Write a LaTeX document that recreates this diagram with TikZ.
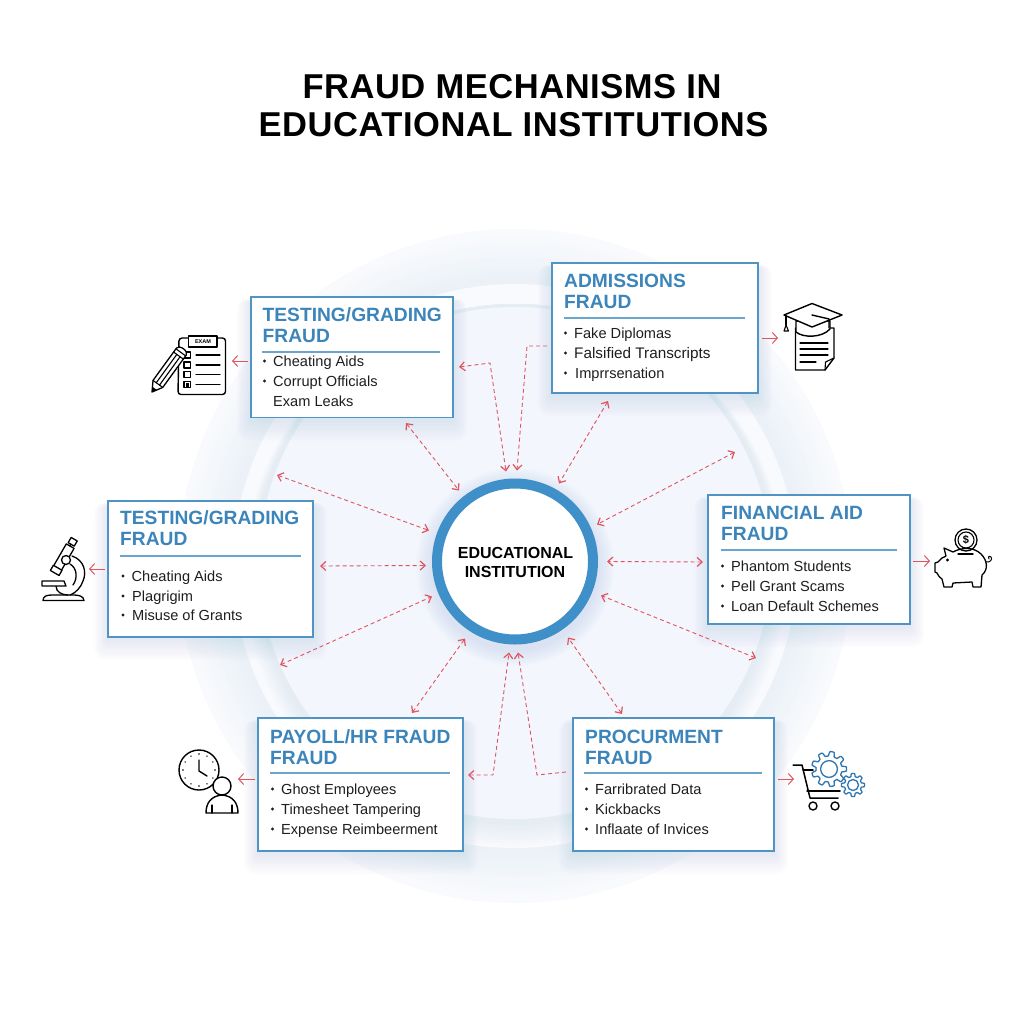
\documentclass[tikz,border=0pt]{standalone}
\usepackage{fontspec}
\setmainfont{Liberation Sans}
\usetikzlibrary{arrows.meta,calc}
\definecolor{cardblue}{HTML}{4F94C4}
\definecolor{headblue}{HTML}{3C85BB}
\definecolor{hubblue}{HTML}{3F8FC9}
\definecolor{linkred}{HTML}{E0545F}
\definecolor{inktext}{HTML}{1E1E1E}
\definecolor{rulecol}{HTML}{6AA5CE}
\definecolor{shadowcol}{HTML}{3F6FA8}
\definecolor{gearblue}{HTML}{2F75AE}
\definecolor{hazeblue}{HTML}{EAF0F7}
\definecolor{fringeblue}{HTML}{E2EAF3}
\definecolor{bandlight}{HTML}{F8FAFD}
\definecolor{innerdisc}{HTML}{F3F6FC}
\tikzset{
  fraudbox/.style={draw=cardblue,line width=1.5pt,fill=white,inner sep=0pt,outer sep=0pt},
  headtext/.style={inner sep=0pt,anchor=base west,text=headblue,font=\fontsize{19.2}{22}\selectfont\bfseries},
  itemtext/.style={inner sep=0pt,anchor=base west,text=inktext,font=\fontsize{14.6}{17}\selectfont},
  dashlink/.style={draw=linkred,line width=0.9pt,dash pattern=on 4pt off 3pt,{Straight Barb[length=5pt,width=9pt,line width=1.2pt]}-{Straight Barb[length=5pt,width=9pt,line width=1.2pt]}},
  halflink/.style={draw=linkred,line width=0.9pt,dash pattern=on 4pt off 3pt,-{Straight Barb[length=5pt,width=9pt,line width=1.2pt]}},
  iconlink/.style={draw=linkred,line width=1pt,-{Straight Barb[length=5pt,width=11pt,line width=1pt]}},
  ink/.style={draw=black,line width=1.4pt,line join=round,line cap=round},
  gearline/.style={draw=gearblue,line width=1.3pt,line join=round},
}
% soft shadow under a card
\newcommand\softshadow[4]{%
  \foreach \k in {1,...,12}{%
    \fill[shadowcol,opacity=0.009,rounded corners={\k*1pt}]
      ({#1-1.2*\k},{#2-0.3*\k+5}) rectangle ({#3+1.2*\k},{#4+1.8*\k+2});
  }}
% card: name, x1,y1,x2,y2, text x, first title baseline, title line 1, title line 2
\newcommand\card[9]{%
  \softshadow{#2}{#3}{#4}{#5}
  \node[fraudbox,minimum width={(#4-#2)*1pt},minimum height={(#5-#3)*1pt}] (#1) at ({(#2+#4)/2},{(#3+#5)/2}) {};
  \node[headtext] (#1-ta) at (#6,#7) {#8};
  \node[headtext] (#1-tb) at (#6,{#7+21.5}) {#9};
}
\newcommand\bulletat[2]{\fill[inktext] (#1,{#2-5}) circle (1.55);}
\newcommand\gearshape[4]{% cx, cy, radius, teeth
  \draw[gearline,fill=white] plot[samples=145,domain=0:360,smooth]
    ({#1+(#3)*(0.87+0.13*max(-1,min(1,2.2*cos(#4*\x))))*cos(\x)},{#2+(#3)*(0.87+0.13*max(-1,min(1,2.2*cos(#4*\x))))*sin(\x)}) -- cycle;
  \draw[gearline] (#1,#2) circle ({0.48*(#3)});
}
\begin{document}
\begin{tikzpicture}[x=1pt,y=-1pt]
\useasboundingbox (0,0) rectangle (1024,1024);
\fill[white] (0,0) rectangle (1024,1024);
% background: outer band fades outward to white
\foreach \k in {0,...,13}{
  \pgfmathsetmacro{\pp}{\k*5+30}
  \fill[hazeblue!\pp!white] (515,566) circle ({337-\k*4});
}
% lighter band
\fill[bandlight] (515,566) circle (282);
% crescent-shaped fringe round the inner disc, darkest near it
\foreach \k in {8,...,1}{
  \pgfmathsetmacro{\pp}{(9-\k)*11}
  \fill[fringeblue!\pp!bandlight] (515,{563+1.5*\k}) circle ({259+1.5*\k});
}
\foreach \k in {6,...,1}{
  \pgfmathsetmacro{\pp}{(7-\k)*16}
  \fill[innerdisc!\pp!bandlight] (515,563) circle ({259-\k*3});
}
\fill[innerdisc] (515,563) circle (241);
% title
\node[inner sep=0pt,anchor=base,font=\fontsize{34.5}{38}\selectfont\bfseries\addfontfeatures{LetterSpace=1.6},text=black] (titleA) at (512,99) {FRAUD MECHANISMS IN};
\node[inner sep=0pt,anchor=base,font=\fontsize{34.5}{38}\selectfont\bfseries\addfontfeatures{LetterSpace=1.6},text=black] (titleB) at (513.5,137) {EDUCATIONAL INSTITUTIONS};

% hub shadow
\foreach \k in {1,...,10}{\fill[shadowcol,opacity=0.012] (515,567) circle ({83+1.6*\k});}
\node[circle,draw=hubblue,line width=10pt,fill=white,minimum size=156pt,inner sep=0pt,outer sep=0pt] (hub) at (515,561.5) {};
\node[inner sep=0pt,anchor=base,font=\fontsize{16}{18}\selectfont\bfseries] (hubA) at (515.5,558) {EDUCATIONAL};
\node[inner sep=0pt,anchor=base,font=\fontsize{16}{18}\selectfont\bfseries] (hubB) at (515,577) {INSTITUTION};

% cards
\card{tt}{251}{297}{453}{417.5}{262.5}{321}{TESTING/GRADING}{FRAUD}
\card{ad}{552}{263}{758}{393}{564}{287}{ADMISSIONS}{FRAUD}
\card{tl}{108}{501}{313}{637}{120}{524}{TESTING/GRADING}{FRAUD}
\card{fi}{708}{495}{910}{624}{721}{519}{FINANCIAL AID}{FRAUD}
\card{pa}{258}{718}{463}{851}{270}{743}{PAYOLL/HR FRAUD}{FRAUD}
\card{pr}{573}{718}{774}{851}{585}{743}{PROCURMENT}{FRAUD}

\draw[rulecol,line width=1.1pt] (262,352) -- (440,352);
\draw[rulecol,line width=1.1pt] (564,318) -- (745,318);
\draw[rulecol,line width=1.1pt] (120,556) -- (301,556);
\draw[rulecol,line width=1.1pt] (721,550) -- (897,550);
\draw[rulecol,line width=1.1pt] (270,773) -- (450,773);
\draw[rulecol,line width=1.1pt] (584,773) -- (762,773);

\bulletat{264.5}{366}\bulletat{264.5}{386}
\node[itemtext] (tt1) at (273,366) {Cheating Aids};
\node[itemtext] (tt2) at (273,386) {Corrupt Officials};
\node[itemtext] (tt3) at (273,406) {Exam Leaks};

\bulletat{565.5}{338}\bulletat{565.5}{358}\bulletat{565.5}{378}
\node[itemtext] (ad1) at (574,338) {Fake Diplomas};
\node[itemtext,font=\fontsize{15.3}{17}\selectfont] (ad2) at (574,358) {Falsified Transcripts};
\node[itemtext] (ad3) at (575,378) {Imprrsenation};

\bulletat{123}{581}\bulletat{123}{601}\bulletat{123}{620}
\node[itemtext] (tl1) at (131.5,581) {Cheating Aids};
\node[itemtext] (tl2) at (132,601) {Plagrigim};
\node[itemtext] (tl3) at (132,620) {Misuse of Grants};

\bulletat{722.5}{571}\bulletat{722.5}{591}\bulletat{722.5}{611}
\node[itemtext] (fi1) at (731,571) {Phantom Students};
\node[itemtext] (fi2) at (731,591) {Pell Grant Scams};
\node[itemtext] (fi3) at (731,611) {Loan Default Schemes};

\bulletat{272.5}{794}\bulletat{272.5}{814}\bulletat{272.5}{834}
\node[itemtext] (pa1) at (281,794) {Ghost Employees};
\node[itemtext] (pa2) at (281,814) {Timesheet Tampering};
\node[itemtext] (pa3) at (281,834) {Expense Reimbeerment};

\bulletat{586.5}{794}\bulletat{586.5}{814}\bulletat{586.5}{834}
\node[itemtext] (pr1) at (595,794) {Farribrated Data};
\node[itemtext] (pr2) at (595,814) {Kickbacks};
\node[itemtext] (pr3) at (595,834) {Inflaate of Invices};

% connector ends around the hub
\coordinate (h1) at ([shift={(-56,-71)}]hub.center);
\coordinate (h2) at ([shift={(-9,-90)}]hub.center);
\coordinate (h3) at ([shift={(2,-91)}]hub.center);
\coordinate (h4) at ([shift={(44,-78)}]hub.center);
\coordinate (h5) at ([shift={(82,-37)}]hub.center);
\coordinate (h6) at ([shift={(92,0)}]hub.center);
\coordinate (h7) at ([shift={(86,34)}]hub.center);
\coordinate (h8) at ([shift={(53,76)}]hub.center);
\coordinate (h9) at ([shift={(3,91)}]hub.center);
\coordinate (h10) at ([shift={(-6,91)}]hub.center);
\coordinate (h11) at ([shift={(-50,77)}]hub.center);
\coordinate (h12) at ([shift={(-83,35)}]hub.center);
\coordinate (h13) at ([shift={(-89,4)}]hub.center);
\coordinate (h14) at ([shift={(-86,-31)}]hub.center);
% free ends
\coordinate (f1) at (406,423);
\coordinate (f2a) at (459,367);\coordinate (f2b) at (490,363);
\coordinate (f3a) at (547,346);\coordinate (f3b) at (527,346);
\coordinate (f4) at (608,401);
\coordinate (f5) at (735,452);
\coordinate (f6) at (703,562);
\coordinate (f7) at (756,658);
\coordinate (f8) at (622,714);
\coordinate (f9a) at (566,772);\coordinate (f9b) at (537,775);
\coordinate (f10a) at (468,775);\coordinate (f10b) at (493,775);
\coordinate (f11) at (412,713);
\coordinate (f12) at (280,665);
\coordinate (f13) at (320,566);
\coordinate (f14) at (277,475);

\draw[dashlink] (f1) -- (h1);
\draw[dashlink] (f2a) -- (f2b) -- (h2);
\draw[halflink] (f3a) -- (f3b) -- (h3);
\draw[dashlink] (f4) -- (h4);
\draw[dashlink] (f5) -- (h5);
\draw[dashlink] (f6) -- (h6);
\draw[dashlink] (f7) -- (h7);
\draw[dashlink] (f8) -- (h8);
\draw[halflink] (f9a) -- (f9b) -- (h9);
\draw[dashlink] (f10a) -- (f10b) -- (h10);
\draw[dashlink] (f11) -- (h11);
\draw[dashlink] (f12) -- (h12);
\draw[dashlink] (f13) -- (h13);
\draw[dashlink] (f14) -- (h14);

% icon arrows
\coordinate (i1a) at (248,361);\coordinate (i1b) at (232,361);
\coordinate (i2a) at (762,338);\coordinate (i2b) at (778,338);
\coordinate (i3a) at (105,569);\coordinate (i3b) at (89,569);
\coordinate (i4a) at (913,561);\coordinate (i4b) at (930,561);
\coordinate (i5a) at (255,779);\coordinate (i5b) at (238,779);
\coordinate (i6a) at (778,779);\coordinate (i6b) at (794,779);
\draw[iconlink] (i1a) -- (i1b);
\draw[iconlink] (i2a) -- (i2b);
\draw[iconlink] (i3a) -- (i3b);
\draw[iconlink] (i4a) -- (i4b);
\draw[iconlink] (i5a) -- (i5b);
\draw[iconlink] (i6a) -- (i6b);

% clipboard + pencil
\draw[ink,rounded corners=3pt] (188,338) -- (179,338) -- (178,394.5) -- (225.5,394.5) -- (225.5,338) -- (217,338);
\draw[ink,fill=white] (188.5,336) rectangle (217,347);
\node[inner sep=0pt,font=\fontsize{5.5}{6}\selectfont\bfseries] (examtag) at (203,341.5) {EXAM};
\foreach \y in {355,365,374.5,384.5}{
  \draw[ink,line width=1.2pt] (184,{\y-3}) rectangle (190.5,{\y+3});
  \draw[ink,line width=1.2pt] (196,\y) -- (220,\y);
}
\fill[black] (186,382.5) rectangle (188.5,386.5);
\begin{scope}[shift={(152,392)},rotate=54]
  \draw[ink,fill=white,line width=1.3pt] (0,0) -- (10,-6) -- (50,-6) arc (-90:90:3.5 and 6) -- (10,6) -- cycle;
  \draw[ink,line width=1.1pt] (10,-6) -- (10,6);
  \draw[ink,line width=1.1pt] (10,-2) -- (45,-2);
  \draw[ink,line width=1.1pt] (10,2) -- (45,2);
  \draw[ink,line width=1.1pt] (45,-6) -- (45,6);
  \draw[ink,line width=1.1pt] (49,-6) -- (49,6);
  \fill[black] (0,0) -- (4.5,-2.7) -- (4.5,2.7) -- cycle;
\end{scope}

% cap + document
\draw[ink,fill=white] (795.5,328) -- (834,328) -- (834,358) -- (825,370) -- (795.5,370) -- cycle;
\draw[ink,line width=1.1pt] (825,370) -- (825.5,362) -- (834,358);
\foreach \y/\e in {343/828,349/828,355/828,362/816}{\draw[ink,line width=1.2pt] (800,\y) -- (\e,\y);}
\draw[ink,fill=white] (796,321) -- (796,332) .. controls (803,338) and (822,338) .. (830,329) -- (830,321) -- cycle;
\draw[ink,fill=white] (784,315) -- (812,303.5) -- (842,315) -- (812,327) -- cycle;
\draw[ink] (812,315) -- (829,319) -- (829,328);
\draw[ink,line width=1.1pt] (786,316) -- (786,325);
\draw[ink,line width=1.1pt,fill=white] (786,325) -- (784,331) -- (788.5,331) -- cycle;

% microscope
\draw[ink,line width=1.3pt] (43,600.5) -- (84,600.5) .. controls (84,596) and (78,595) .. (74,595) -- (52,595) .. controls (47,595) and (43,596) .. (43,600.5) -- cycle;
\draw[ink,line width=1.3pt] (72,556) .. controls (84,560) and (87,572) .. (83,581) .. controls (81,587) and (76,593) .. (70,595);
\draw[ink,line width=1.3pt] (70,564) .. controls (77,568) and (78,578) .. (73,585);
\draw[ink,line width=1.3pt] (56,586) .. controls (56,592) and (62,595) .. (68,595);
\draw[ink,line width=1.3pt,fill=white] (42,581) -- (64,581) -- (66,586) -- (42,586) -- cycle;
\begin{scope}[shift={(64.5,559)},rotate=-30]
  \draw[ink,line width=1.3pt,fill=white] (-6,-14) rectangle (3,16);
  \draw[ink,line width=1.3pt,fill=white] (-6.5,11) rectangle (3.5,17);
  \draw[ink,line width=1.3pt,fill=white] (-5,-22) rectangle (2,-16);
  \draw[ink,line width=1.3pt] (-2,-16) -- (-2,-14);
\end{scope}
\draw[ink,line width=1.3pt,fill=white] (66,560) circle (4.5);

% piggy bank
\draw[ink,line width=1.3pt,fill=white] (966,540) circle (11);
\draw[ink,line width=1.1pt] (966,540) circle (8);
\node[inner sep=0pt,font=\fontsize{11}{12}\selectfont\bfseries] (coinmark) at (966,540) {\$};
\draw[ink,line width=1.3pt] (946,556) -- (944,548) -- (953,552) .. controls (962,547) and (974,547) .. (981,554) .. controls (988,561) and (988,570) .. (982,575) -- (981,587) -- (973,587) -- (972,582) -- (953,583) -- (952,587) -- (944,587) -- (942,579) .. controls (939,577) and (938,575) .. (937,573) -- (935,572) -- (935,563) -- (938,562) .. controls (940,559) and (943,557) .. (946,556);
\draw[ink,line width=1.3pt] (958,554) -- (973,554);
\fill[black] (947.5,560) circle (1.6);
\draw[ink,line width=1.0pt] (986,562) .. controls (990,563) and (993,559) .. (991,557) .. controls (989,555) and (987,558) .. (989,559);

% clock + person
\draw[ink,line width=1.4pt] (199,770) circle (20);
\draw[ink] (199,760) -- (199,771) -- (207,776);
\foreach \a in {0,30,...,330}{\fill[black] ({199+16*cos(\a)},{770+16*sin(\a)}) circle (0.8);}
\draw[ink,fill=white] (222,786) circle (9);
\draw[ink,fill=white] (206,813) .. controls (206,803) and (211,796) .. (222,795) .. controls (233,796) and (238,803) .. (238,813) -- cycle;
\draw[ink,line width=1.1pt] (212,805) -- (212,813);
\draw[ink,line width=1.1pt] (232,805) -- (232,813);

% cart + gears
\gearshape{829}{769}{17.5}{9}
\gearshape{853}{785}{11.5}{8}
\draw[ink,line width=1.5pt] (793,765) -- (802,765) -- (810,798) -- (838,798);
\draw[ink,line width=1.5pt] (807,791) -- (840,791);
\draw[ink,line width=1.5pt] (803,770) -- (813,770);
\draw[ink,fill=white] (813,806) circle (4);
\draw[ink,fill=white] (835,806) circle (4);
\end{tikzpicture}
\end{document}
